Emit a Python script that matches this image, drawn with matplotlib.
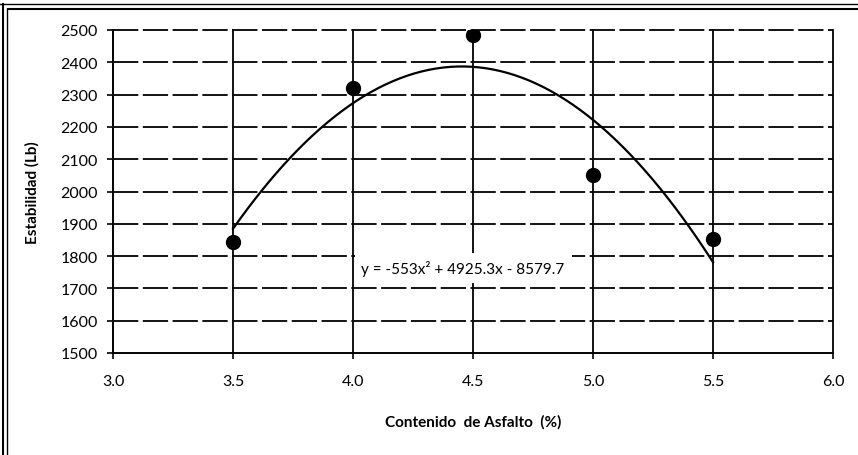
import numpy as np
import matplotlib.pyplot as plt
from matplotlib.lines import Line2D

plt.rcParams['font.family'] = ['Lato', 'DejaVu Sans']

# Measured points (asphalt content %, stability lb)
asfalto = [3.5, 4.0, 4.5, 5.0, 5.5]
estabilidad = [1845, 2320, 2483, 2052, 1853]

# Polynomial trend line coefficients as printed on the chart
coef = [-553, 4925.3, -8579.7]
ecuacion = "y = -553x² + 4925.3x - 8579.7"

xticks = [3.0, 3.5, 4.0, 4.5, 5.0, 5.5, 6.0]
yticks = list(range(1500, 2501, 100))

fig = plt.figure(figsize=(8.58, 4.56), dpi=100)
ax = fig.add_axes([113 / 858, 1 - 354 / 456, 720 / 858, 323 / 456])

# Gridlines: dashed horizontals, solid verticals
for yv in yticks[1:]:
    ax.axhline(yv, color="k", lw=1.3, dashes=(14, 2.5), zorder=1, clip_on=False)
for xv in xticks[1:]:
    ax.axvline(xv, color="k", lw=1.3, zorder=1, clip_on=False)

# Trend line over the data range
xs = np.linspace(min(asfalto), max(asfalto), 200)
ax.plot(xs, np.polyval(coef, xs), color="k", lw=1.6, zorder=3)

ax.plot(asfalto, estabilidad, "o", color="k", markersize=10, zorder=4)

ax.text(4.035, 1762, ecuacion, fontsize=11, va="center", ha="left", zorder=5,
        bbox=dict(facecolor="white", edgecolor="none", pad=5))

ax.set_xlim(3.0, 6.0)
ax.set_ylim(1500, 2500)
ax.set_xticks(xticks)
ax.set_xticklabels([f"{v:.1f}" for v in xticks])
ax.set_yticks(yticks)
for s in ["top", "right"]:
    ax.spines[s].set_visible(False)
for s in ["left", "bottom"]:
    ax.spines[s].set_linewidth(1.4)
ax.tick_params(axis="both", direction="out", length=4, width=1.2, labelsize=11.5)
ax.tick_params(axis="x", pad=11)
ax.tick_params(axis="y", pad=7)

ax.set_xlabel("Contenido  de Asfalto  (%)", fontsize=11, fontweight="bold", labelpad=19)
ax.set_ylabel("Estabilidad (Lb)", fontsize=11, fontweight="bold", labelpad=15)

# Page frame from the scanned report
fig.add_artist(Line2D([0, 1], [1 - 5 / 456, 1 - 5 / 456], color="k", lw=1.0))
fig.add_artist(Line2D([8 / 858, 1], [1 - 10 / 456, 1 - 10 / 456], color="k", lw=1.5))
fig.add_artist(Line2D([3 / 858, 3 / 858], [0, 1 - 5 / 456], color="k", lw=1.5))
fig.add_artist(Line2D([7 / 858, 7 / 858], [0, 1 - 10 / 456], color="k", lw=1.0))

fig.savefig("out.png", dpi=100)
